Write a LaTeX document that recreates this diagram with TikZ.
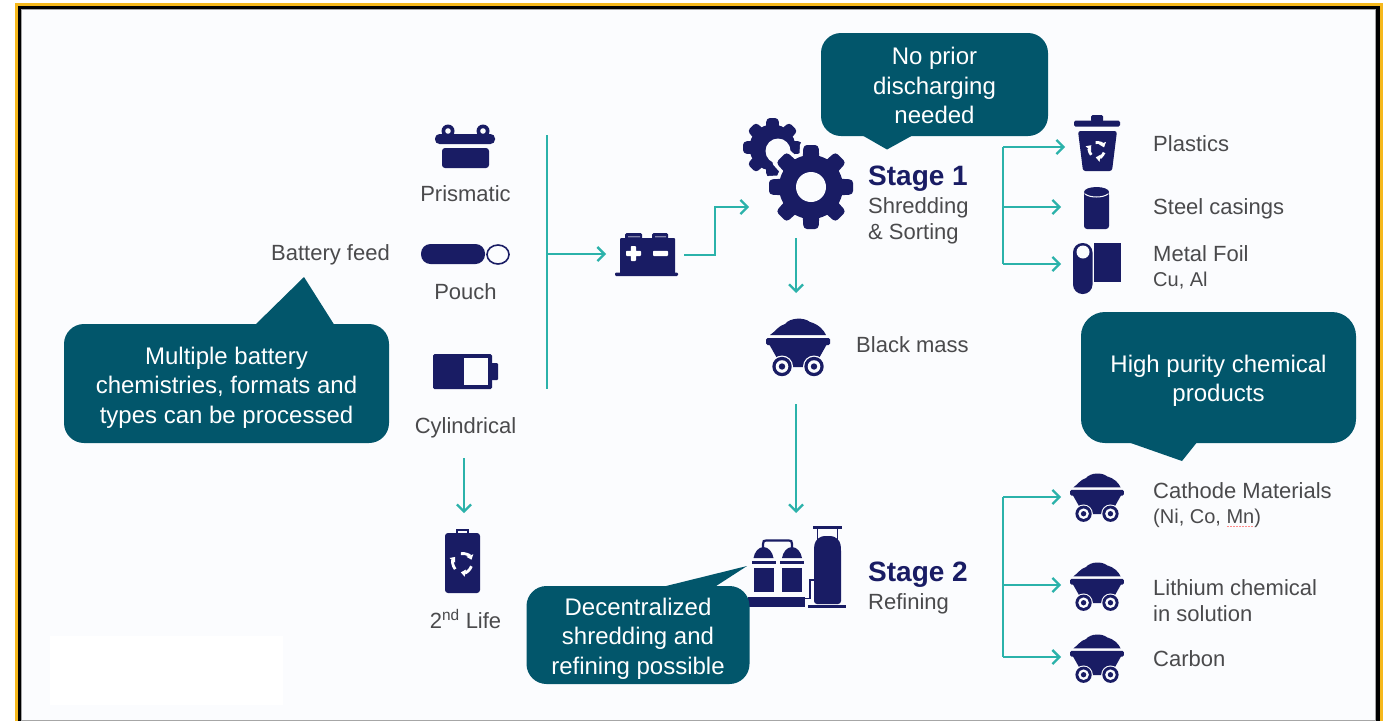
\documentclass[tikz,border=0pt]{standalone}
\usepackage{fontspec}
\setmainfont{Liberation Sans}
\usetikzlibrary{arrows.meta,calc}
\definecolor{navy}{HTML}{191C64}
\definecolor{callout}{HTML}{02566B}
\definecolor{flowc}{HTML}{2BB2AA}
\definecolor{txt}{HTML}{4A4A4C}
\definecolor{bgc}{HTML}{FBFCFE}
\definecolor{frameY}{HTML}{F5B81C}
\tikzset{
  flow/.style={draw=flowc,line width=2.3pt,-{Straight Barb[length=7pt,width=14pt,line width=2.3pt]}},
  flowline/.style={draw=flowc,line width=2.3pt},
  port/.style={inner sep=0pt,outer sep=0pt,draw=none,fill=none},
  lab/.style={anchor=base west,inner sep=0pt,text=txt,font=\fontsize{22}{26}\selectfont},
  labc/.style={anchor=base,inner sep=0pt,text=txt,font=\fontsize{22}{26}\selectfont},
  sub/.style={anchor=base west,inner sep=0pt,text=txt,font=\fontsize{20}{24}\selectfont},
  stagehd/.style={anchor=base west,inner sep=0pt,text=navy,font=\fontsize{28}{32}\selectfont\bfseries},
  bubble/.style={fill=callout,rounded corners=20pt,inner sep=0pt},
  bubbletext/.style={text=white,align=center,inner sep=0pt,font=\fontsize{24}{29.5}\selectfont},
  cart/.pic={
    \fill[navy] (-28,-11) .. controls (-22,-15) and (-20,-20) .. (-13,-22)
       .. controls (-8,-28.5) and (6,-29) .. (12,-24)
       .. controls (20,-22) and (26,-16) .. (28,-11) -- cycle;
    \fill[navy,rounded corners=1.5pt] (-32,-8) rectangle (32,-1);
    \fill[navy] (-29,-2) -- (-16,21) -- (16,21) -- (29,-2) -- cycle;
    \foreach \s in {-1,1}{
      \fill[bgc] (\s*16,20.5) circle (11);
      \fill[navy] (\s*16,20.5) circle (9.7);
      \fill[bgc] (\s*16,20.5) circle (6.3);
      \fill[navy] (\s*16,20.5) circle (3.2);
    }
  },
  recyc/.pic={
    \foreach \a in {20,140,260}
      \draw[white,line width=2.8pt,-{Triangle[length=4.5pt,width=7pt]}]
        (\a:1) arc[start angle=\a,end angle=\a+80,radius=1];
  }
}
\newcommand{\drawgear}[7]{% x y R root hole toothw halo
  \begin{scope}[shift={(#1,#2)}]
    \ifdim #7pt>0pt
    \foreach \a in {0,45,...,315}{
      \draw[bgc,line width=#7pt,line join=round,rotate=\a] (-#6,0) -- (-#6*.75,#3) -- (#6*.75,#3) -- (#6,0) -- cycle;
    }
    \fill[bgc] (0,0) circle (#4+#7/2);
    \fi
    \foreach \a in {0,45,...,315}{
      \fill[navy,rotate=\a,rounded corners=3.5pt] (-#6,0) -- (-#6*.75,#3) -- (#6*.75,#3) -- (#6,0) -- cycle;
    }
    \fill[navy] (0,0) circle (#4);
    \fill[bgc] (0,0) circle (#5);
  \end{scope}}
\begin{document}
\begin{tikzpicture}[x=1pt,y=-1pt]
\useasboundingbox (0,0) rectangle (1391,721);
% frame and ground
\fill[white] (0,0) rectangle (1391,721);
\fill[frameY] (15,3) rectangle (1382.5,721);
\fill[black] (18,6) rectangle (1379.5,721);
\fill[gray!70] (20.5,8.5) rectangle (1375.5,721);
\fill[bgc] (21.5,9.5) rectangle (1374.5,719.5);
\fill[white] (50,636) rectangle (283,705);

% ---- icons: prismatic
\fill[navy] (448,131) circle (6.5) (483,131) circle (6.5);
\fill[bgc] (448,131) circle (2.8) (483,131) circle (2.8);
\fill[navy,rounded corners=4.5pt] (435,134) rectangle (495,144);
\fill[navy,rounded corners=3pt] (442,148) -- (442,168) -- (489,168) -- (489,148) -- cycle;
% pouch
\fill[navy,rounded corners=9.5pt] (421,244) rectangle (485,264);
\draw[navy,line width=1.6pt,fill=bgc] (498,254.5) ellipse (11 and 9.5);
% cylindrical
\fill[navy,rounded corners=1.5pt] (433,354) rectangle (492,389);
\fill[navy,rounded corners=1pt] (491,363) rectangle (498,380);
\fill[bgc] (463.5,358) rectangle (488,385);
% central battery
\fill[navy,rounded corners=1pt] (620,238) rectangle (675,274);
\fill[navy,rounded corners=1.5pt] (625,233) rectangle (642,240) (652,233) rectangle (668,240);
\fill[navy!55] (628,236) rectangle (640,237.4) (655,236) rectangle (666,237.4);
\fill[navy,rounded corners=1.2pt] (615,272.5) rectangle (678,276);
\fill[white,rounded corners=.8pt] (626,250.8) rectangle (641,256) (630.8,246) rectangle (636,261);
\fill[white,rounded corners=.8pt] (653,250.8) rectangle (668,256);
% gears
\drawgear{772.5}{147.5}{29.5}{23}{0}{8}{0}
\fill[bgc] (778,151) circle (12.5);
\drawgear{811}{187}{42}{32}{15}{10}{7}
% black-mass cart
\pic at (798,346) {cart};
% trash
\fill[navy,rounded corners=1.5pt] (1074,120.7) rectangle (1120,126.7);
\fill[navy,rounded corners=1.5pt] (1091,115) rectangle (1103,122);
\fill[navy,rounded corners=2.5pt] (1078,131) -- (1117,131) -- (1112,171) -- (1083,171) -- cycle;
\pic[scale=7.5] at (1097,150) {recyc};
% steel
\fill[navy,rounded corners=3pt] (1084,192) rectangle (1109,229);
\fill[navy] (1096.5,192) ellipse (12.5 and 5);
\draw[bgc,line width=1pt] (1085,194) .. controls (1090,198) and (1103,198) .. (1108,194);
% foil
\fill[navy] (1094,243) rectangle (1121,282);
\fill[navy,rounded corners=9.5pt] (1073,243) rectangle (1092.5,294);
\fill[bgc] (1083,252) circle (6.5);
% second life
\fill[navy,rounded corners=3pt] (445,533) rectangle (480,593);
\draw[navy,line width=1.2pt] (457,533) -- (457,530) -- (468,530) -- (468,533);
\pic[scale=9.5] at (462.5,563) {recyc};
% refinery
\draw[navy,line width=2.2pt] (763,548) -- (763,544) .. controls (763,541) and (764,540.5) .. (766,540.5) -- (789,540.5) .. controls (791,540.5) and (792,541) .. (792,544) -- (792,548);
\foreach \cx in {763.5,792}{
  \fill[navy] (\cx-10,558) .. controls (\cx-9,552) and (\cx-5,547) .. (\cx,547) .. controls (\cx+5,547) and (\cx+9,552) .. (\cx+10,558) -- cycle;
  \fill[navy] (\cx-12,560.5) rectangle (\cx+12,564);
  \fill[navy] (\cx-10,568) rectangle (\cx+10,592);
}
\fill[navy] (748,597) rectangle (805,607);
\fill[navy] (808,605) rectangle (846,607.5);
\fill[navy,rounded corners=3pt] (814,604) -- (814,548) .. controls (815,540) and (820,536) .. (827.5,536) .. controls (835,536) and (840,540) .. (841,548) -- (841,604) -- cycle;
\fill[navy] (813,526) rectangle (842,528.5);
\draw[navy,line width=1.8pt] (817.5,527) -- (817.5,545) (837.5,527) -- (837.5,545);
\draw[navy,line width=1.6pt] (805,598.5) -- (810,598.5) -- (810,580) -- (814,580);

% ---- callouts
\fill[callout] (254,326) -- (304,277) -- (335,326) -- cycle;
\node[bubble,minimum width=325pt,minimum height=119pt] (feedNote) at (226.5,383.5) {};
\node[bubbletext,yshift=-4pt] (feedText) at (feedNote.center)
  {Multiple battery\\chemistries, formats and\\types can be processed};
\fill[callout] (860,134) -- (887,149.5) -- (915,134) -- cycle;
\node[bubble,minimum width=227pt,minimum height=103pt] (dischargeNote) at (934.5,84.5) {};
\node[bubbletext,yshift=-1pt] (dischargeText) at (dischargeNote.center)
  {No prior\\discharging\\needed};
\fill[callout] (1125,441) -- (1182,461) -- (1198,441) -- cycle;
\node[bubble,rounded corners=24pt,minimum width=275pt,minimum height=131pt] (purityNote) at (1218.5,377.5) {};
\node[bubbletext,yshift=-3.5pt] (purityText) at (purityNote.center)
  {High purity chemical\\products};
\fill[callout] (658,588) -- (747,566) -- (713,588) -- cycle;
\node[bubble,minimum width=223pt,minimum height=98pt] (decentralNote) at (638,635) {};
\node[bubbletext,yshift=-3.5pt] (decentralText) at (decentralNote.center)
  {Decentralized\\shredding and\\refining possible};

% ---- labels
\node[lab,anchor=base] (feed) at (330.5,260) {Battery feed};
\node[labc] (prismatic) at (465.5,201) {Prismatic};
\node[labc] (pouch) at (465.5,299) {Pouch};
\node[labc] (cylindrical) at (465.5,433.5) {Cylindrical};
\node[labc] (second) at (465.5,628) {2\textsuperscript{nd} Life};
\node[stagehd] (stageone) at (868,185) {Stage 1};
\node[lab] (shred) at (868,213) {Shredding};
\node[lab] (sorting) at (868,239) {\& Sorting};
\node[lab] (blackmass) at (856,352) {Black mass};
\node[lab] (plastics) at (1153,151) {Plastics};
\node[lab] (steel) at (1153,214) {Steel casings};
\node[lab] (metal) at (1153,261) {Metal Foil};
\node[sub] (cual) at (1153,286) {Cu, Al};
\node[lab] (cathode) at (1153,498) {Cathode Materials};
\node[sub] (nicomn) at (1153,523) {(Ni, Co, Mn)};
\draw[red!45,line width=.7pt,dash pattern=on 2pt off 1pt] (1227,526.5) -- (1254,526.5);
\node[lab] (lithium) at (1153,595) {Lithium chemical};
\node[lab] (solution) at (1153,621) {in solution};
\node[lab] (carbon) at (1153,666) {Carbon};
\node[stagehd] (stagetwo) at (868,581) {Stage 2};
\node[lab] (refining) at (868,609) {Refining};

% ---- ports: arrow ends at the icons
\node[port,minimum width=78pt,minimum height=43pt] (batIcon) at (645,254) {};
\node[port,minimum width=94pt,minimum height=101pt] (gearIcon) at (796,187.5) {};
\node[port,minimum width=64pt,minimum height=106pt] (blackCart) at (796,346) {};
\node[port,minimum width=64pt,minimum height=80pt] (refinery) at (796,553) {};
\node[port,minimum width=36pt,minimum height=64pt] (lifeIcon) at (464,545) {};
\node[port,minimum width=36pt,minimum height=36pt] (cylIcon) at (464,440) {};
\node[port,minimum width=60pt,minimum height=56pt] (trashIcon) at (1095,147) {};
\node[port,minimum width=60pt,minimum height=42pt] (steelIcon) at (1091,207) {};
\node[port,minimum width=60pt,minimum height=50pt] (foilIcon) at (1091,264) {};
\node[port,minimum width=60pt,minimum height=48pt] (cartA) at (1091,497) {};
\node[port,minimum width=60pt,minimum height=48pt] (cartB) at (1091,585) {};
\node[port,minimum width=60pt,minimum height=48pt] (cartC) at (1091,657) {};
\coordinate (busTop) at (547,135);
\coordinate (busBot) at (547,389);
\coordinate (elbowA) at (684,255);
\coordinate (elbowX) at (715,207);
\coordinate (upTrunkTop) at (1003,147);
\coordinate (upTrunkBot) at (1003,264);
\coordinate (lowTrunkTop) at (1003,497);
\coordinate (lowTrunkBot) at (1003,657);

% ---- connectors
\draw[flowline] (busTop) -- (busBot);
\draw[flow] (busTop |- batIcon) -- (batIcon.west);
\draw[flow] (elbowA) -| (elbowX) -- (gearIcon.west |- elbowX);
\draw[flow] (gearIcon.south) -- (blackCart.north);
\draw[flow] ([yshift=-5pt]blackCart.south) -- (refinery.north);
\draw[flow] (cylIcon.south) -- (lifeIcon.north);
\draw[flowline] (upTrunkTop) -- (upTrunkBot);
\draw[flow] (upTrunkTop) -- (trashIcon.west);
\draw[flow] (upTrunkTop |- steelIcon) -- (steelIcon.west);
\draw[flow] (upTrunkBot) -- (foilIcon.west);
\draw[flowline] (lowTrunkTop) -- (lowTrunkBot);
\draw[flow] (lowTrunkTop) -- (cartA.west);
\draw[flow] (lowTrunkTop |- cartB) -- (cartB.west);
\draw[flow] (lowTrunkBot) -- (cartC.west);

% carts on the right
\pic[scale=.84] at (1097,496.5) {cart};
\pic[scale=.84] at (1097,585.5) {cart};
\pic[scale=.84] at (1097,657.5) {cart};
\end{tikzpicture}
\end{document}
